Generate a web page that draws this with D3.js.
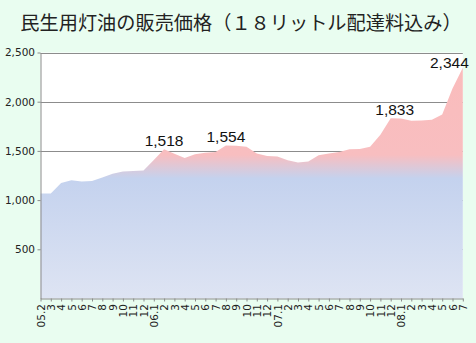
<!DOCTYPE html>
<html>
<head>
<meta charset="utf-8">
<script src="https://cdn.jsdelivr.net/npm/d3@7"></script>
<style>
html,body{margin:0;padding:0;background:#e9fdf0;}
svg{display:block;}
</style>
</head>
<body>
<svg id="chart" width="476" height="343"></svg>
<script>
const title = "民生用灯油の販売価格（１８リットル配達料込み）";
const months = ["05.2","3","4","5","6","7","8","9","10","11","12",
  "06.1","2","3","4","5","6","7","8","9","10","11","12",
  "07.1","2","3","4","5","6","7","8","9","10","11","12",
  "08.1","2","3","4","5","6","7"];
const prices = [1066,1066,1174,1201,1188,1195,1229,1269,1290,1297,1300,
  1408,1518,1470,1429,1466,1480,1490,1554,1552,1542,1473,1449,
  1442,1405,1381,1392,1456,1473,1490,1517,1520,1541,1663,1833,
  1830,1806,1809,1816,1870,2135,2344];
const labelIdx = [12,18,34,41];
const yTicks = [500,1000,1500,2000,2500];

(function(){
const svg = d3.select("#chart");
const W = 476, H = 343;
const pL = 40.5, pR = 462.8, pT = 52.5, pB = 298.5;

svg.append("rect").attr("width",W).attr("height",H).attr("fill","#e9fdf0");
svg.append("rect").attr("x",pL).attr("y",pT).attr("width",pR-pL).attr("height",pB-pT).attr("fill","#ffffff");

svg.append("text").attr("x",241).attr("y",30)
  .attr("text-anchor","middle")
  .attr("font-family","'Noto Sans CJK JP'")
  .attr("font-size",19.2).attr("fill","#222")
  .text(title);

const x = d3.scalePoint().domain(d3.range(months.length)).range([pL,pR]);
const y = d3.scaleLinear().domain([0,2500]).range([pB,pT]);

// gridlines
svg.append("g").selectAll("line").data(yTicks).join("line")
  .attr("x1",pL).attr("x2",pR)
  .attr("y1",d=>Math.round(y(d))+0.5).attr("y2",d=>Math.round(y(d))+0.5)
  .attr("stroke","#8c8c8c").attr("stroke-width",1);

// gradient
const defs = svg.append("defs");
const g = defs.append("linearGradient").attr("id","fillGrad")
  .attr("gradientUnits","userSpaceOnUse")
  .attr("x1",0).attr("x2",0).attr("y1",y(2344)).attr("y2",y(0));
const span = y(0)-y(2344);
g.append("stop").attr("offset",0).attr("stop-color","#fabcbc");
g.append("stop").attr("offset",(y(1460)-y(2344))/span).attr("stop-color","#f8bec0");
g.append("stop").attr("offset",(y(1220)-y(2344))/span).attr("stop-color","#c4d2ee");
g.append("stop").attr("offset",1).attr("stop-color","#dee4f3");

const area = d3.area().x((d,i)=>x(i)).y0(y(0)).y1(d=>y(d));
svg.append("path").datum(prices).attr("d",area).attr("fill","url(#fillGrad)");

// y axis
const yAxis = svg.append("g").attr("transform",`translate(${pL},0)`)
  .call(d3.axisLeft(y).tickValues(yTicks).tickFormat(d3.format(",")).tickSize(3).tickSizeOuter(0).tickPadding(2.5));
yAxis.select(".domain").attr("stroke","#8c8c8c");
yAxis.selectAll(".tick line").attr("stroke","#8c8c8c");
yAxis.selectAll("text").attr("font-family","'DejaVu Sans'").attr("font-size",10.5).attr("fill","#222");

// x axis
const xAxis = svg.append("g").attr("transform",`translate(0,${pB})`)
  .call(d3.axisBottom(x).tickFormat(i=>months[i]).tickSize(3).tickSizeOuter(0));
xAxis.select(".domain").attr("stroke","#8c8c8c");
xAxis.selectAll(".tick line").attr("stroke","#8c8c8c");
xAxis.selectAll("text")
  .attr("font-family","'DejaVu Sans'").attr("font-size",10.5).attr("fill","#222")
  .attr("transform","rotate(-90)")
  .attr("text-anchor","end")
  .attr("x",-5.5).attr("y",0).attr("dy","0.35em");

// data labels
const last = months.length-1;
svg.append("g").selectAll("text").data(labelIdx).join("text")
  .attr("x",i=> i===last ? x(i)+6 : x(i)+(i===34?4:0))
  .attr("y",i=> i===last ? y(prices[i]) : y(prices[i])-3.5)
  .attr("text-anchor",i=> i===last ? "end" : "middle")
  .attr("font-family","'Liberation Sans'")
  .attr("font-size",15.5).attr("fill","#111")
  .text(i=>d3.format(",")(prices[i]));
})();
</script>
</body>
</html>
